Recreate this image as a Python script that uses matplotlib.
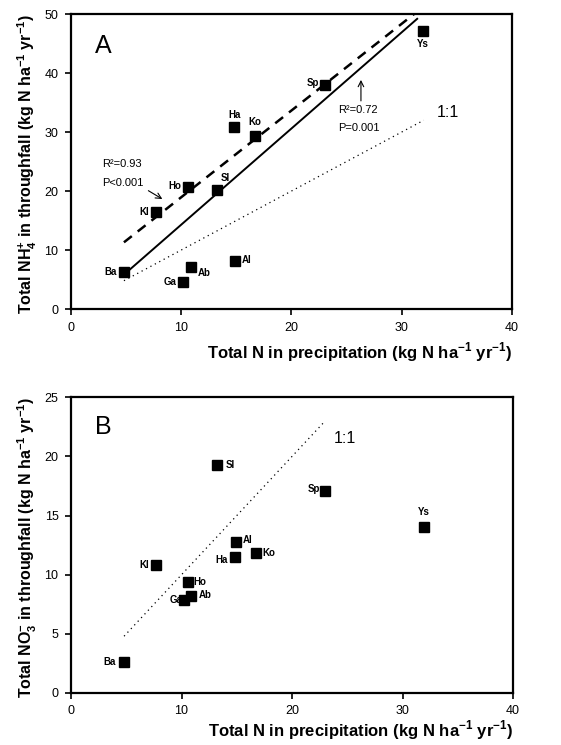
import numpy as np
import matplotlib
matplotlib.use('Agg')
import matplotlib.pyplot as plt

plt.rcParams['font.family'] = ['Liberation Sans', 'DejaVu Sans']
plt.rcParams['mathtext.fontset'] = 'custom'
plt.rcParams['mathtext.rm'] = 'Liberation Sans:bold'
plt.rcParams['mathtext.bf'] = 'Liberation Sans:bold'

# --- datos ---
sites = ['Ba', 'Kl', 'Ho', 'Ga', 'Ab', 'Sl', 'Ha', 'Al', 'Ko', 'Sp', 'Ys']
n_precip = [4.8, 7.7, 10.6, 10.2, 10.9, 13.2, 14.8, 14.9, 16.7, 23.0, 31.9]
nh4_tf = [6.3, 16.4, 20.6, 4.5, 7.1, 20.2, 30.8, 8.1, 29.4, 38.0, 47.1]
no3_tf = [2.6, 10.8, 9.4, 7.9, 8.2, 19.3, 11.5, 12.8, 11.8, 17.1, 14.05]

# regresiones (pendiente, intercepto) y rangos de x
fit_all = (1.63, -2.0)      # R2=0.72
fit_sub = (1.47, 4.25)      # R2=0.93
fit_range = [4.8, 31.4]
one2one_a = [4.8, 32.0]
one2one_b = [4.8, 22.8]

# posición de las etiquetas de cada sitio (offset en puntos, alineación)
lab_a = {'Ba': (-5, 0, 'right', 'center'), 'Kl': (-5, 0, 'right', 'center'),
         'Ho': (-5, 1, 'right', 'center'), 'Ga': (-5, 0, 'right', 'center'),
         'Ab': (5, -4, 'left', 'center'), 'Sl': (3, 5, 'left', 'bottom'),
         'Ha': (0, 5, 'center', 'bottom'), 'Al': (5, 1, 'left', 'center'),
         'Ko': (0, 6, 'center', 'bottom'), 'Sp': (-4, 1, 'right', 'center'),
         'Ys': (0, -6, 'center', 'top')}
lab_b = {'Ba': (-6, 0, 'right', 'center'), 'Kl': (-5, 0, 'right', 'center'),
         'Ho': (4, 0, 'left', 'center'), 'Ga': (-1, 0, 'right', 'center'),
         'Ab': (5, 1, 'left', 'center'), 'Sl': (6, 0, 'left', 'center'),
         'Ha': (-5, -2, 'right', 'center'), 'Al': (5, 1, 'left', 'center'),
         'Ko': (5, 0, 'left', 'center'), 'Sp': (-4, 1, 'right', 'center'),
         'Ys': (0, 7, 'center', 'bottom')}

fig = plt.figure(figsize=(5.61, 7.45), dpi=100)
axA = fig.add_axes([0.1266, 0.5852, 0.786, 0.396])
axB = fig.add_axes([0.1266, 0.0698, 0.788, 0.397])

xlab = r'Total N in precipitation (kg N ha$^{\mathbf{-1}}$ yr$^{\mathbf{-1}}$)'

def style(ax, ymax, ystep, ylabel, xpad):
    ax.set_xlim(0, 40)
    ax.set_ylim(0, ymax)
    ax.set_xticks(np.arange(0, 41, 10))
    ax.set_yticks(np.arange(0, ymax + 1, ystep))
    for s in ax.spines.values():
        s.set_linewidth(1.6)
    ax.tick_params(direction='out', length=4, width=1.2, labelsize=9, pad=5)
    ax.set_xlabel(xlab, fontsize=12, fontweight='bold', loc='right', labelpad=xpad)
    ax.set_ylabel(ylabel, fontsize=11.5, fontweight='bold', loc='top', labelpad=4)

def points(ax, yvals, labs):
    ax.plot(n_precip, yvals, 's', color='black', ms=6.5, zorder=5)
    for s, x, y in zip(sites, n_precip, yvals):
        dx, dy, ha, va = labs[s]
        ax.annotate(s, (x, y), xytext=(dx, dy), textcoords='offset points',
                    ha=ha, va=va, fontsize=7, fontweight='bold')

# --- panel A ---
style(axA, 50, 10, r'Total NH$_{\mathbf{4}}^{\mathbf{+}}$ in throughfall (kg N ha$^{\mathbf{-1}}$ yr$^{\mathbf{-1}}$)', 5)
xr = np.array(fit_range)
axA.plot(xr, fit_all[0] * xr + fit_all[1], color='black', lw=1.4)
axA.plot(xr, fit_sub[0] * xr + fit_sub[1], color='black', lw=1.8, ls=(0, (4, 3)))
axA.plot(one2one_a, one2one_a, color='black', lw=0.9, ls=(0, (1, 3)))
points(axA, nh4_tf, lab_a)
axA.text(2.2, 44.5, 'A', fontsize=18, va='center')
axA.text(33.2, 33.3, '1:1', fontsize=11.5, va='center')
axA.text(2.8, 24.5, 'R²=0.93', fontsize=8, va='center')
axA.text(2.8, 21.3, 'P<0.001', fontsize=8, va='center')
axA.annotate('', xy=(8.5, 18.4), xytext=(6.8, 20.3),
             arrowprops=dict(arrowstyle='->', lw=0.8, color='black'))
axA.text(24.2, 33.7, 'R²=0.72', fontsize=8, va='center')
axA.text(24.2, 30.6, 'P=0.001', fontsize=8, va='center')
axA.annotate('', xy=(26.3, 39.3), xytext=(26.3, 34.8),
             arrowprops=dict(arrowstyle='->', lw=0.8, color='black'))

# --- panel B ---
style(axB, 25, 5, r'Total NO$_{\mathbf{3}}^{\mathbf{-}}$ in throughfall (kg N ha$^{\mathbf{-1}}$ yr$^{\mathbf{-1}}$)', 1)
axB.plot(one2one_b, one2one_b, color='black', lw=0.9, ls=(0, (1, 3)))
points(axB, no3_tf, lab_b)
axB.text(2.2, 22.5, 'B', fontsize=18, va='center')
axB.text(23.8, 21.5, '1:1', fontsize=11.5, va='center')

fig.savefig('out.png', dpi=100)
